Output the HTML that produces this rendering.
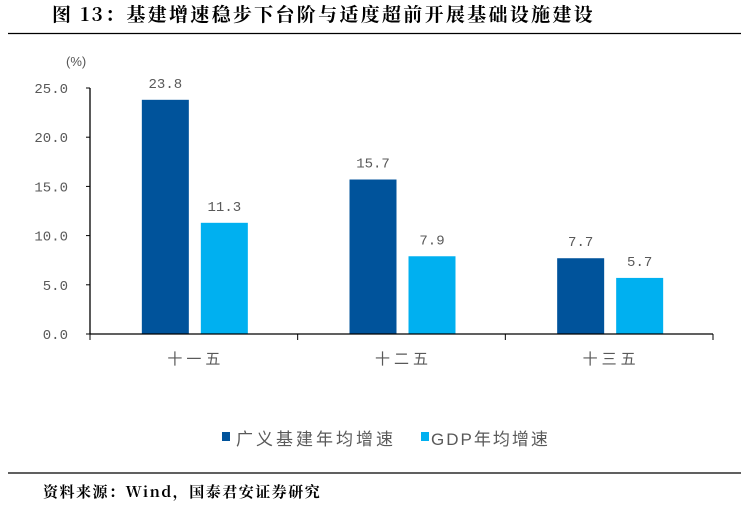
<!DOCTYPE html>
<html><head><meta charset="utf-8"><style>
body{margin:0;background:#fff;width:749px;height:507px;overflow:hidden;font-family:"Liberation Sans","Noto Sans CJK SC",sans-serif}
</style></head><body>
<svg width="749" height="507" xmlns="http://www.w3.org/2000/svg">
<text x="52" y="21" font-size="19" letter-spacing="2.3" font-weight="bold" fill="#000" font-family="'Noto Serif CJK SC','Noto Sans CJK SC',serif">图 13：基建增速稳步下台阶与适度超前开展基础设施建设</text>
<line x1="8" y1="33.5" x2="741" y2="33.5" stroke="#000" stroke-width="1.3"/>
<text x="66" y="66" font-size="13" fill="#555">(%)</text>
<g id="yaxis"></g>
<g id="bars"></g>
<g id="xaxis"></g>
<g>
<rect x="222" y="432" width="8" height="9" fill="#00539b"/>
<text x="236" y="445" font-size="17" letter-spacing="3" fill="#595959">广义基建年均增速</text>
<rect x="421" y="432" width="8" height="9" fill="#00b0f0"/>
<text x="431" y="445" font-size="17" letter-spacing="2" fill="#595959">GDP年均增速</text>
</g>
<line x1="8" y1="473" x2="741" y2="473" stroke="#000" stroke-width="1.3"/>
<text x="43" y="497" font-size="15" letter-spacing="1.5" font-weight="bold" fill="#000" font-family="'Noto Serif CJK SC','Noto Sans CJK SC',serif">资料来源：Wind，国泰君安证券研究</text>
</svg>
<script>
const categories=["十一五","十二五","十三五"];
const infraValues=[23.8,15.7,7.7];
const gdpValues=[11.3,7.9,5.7];
const yTicks=[0,5,10,15,20,25];
const NS="http://www.w3.org/2000/svg";
const x0=90,x1=713,yZero=334,yTop=88,yMax=25;
const yS=v=>yZero-(v/yMax)*(yZero-yTop);
const gw=(x1-x0)/categories.length;
function mk(tag,attrs,parent,text){const e=document.createElementNS(NS,tag);for(const k in attrs)e.setAttribute(k,attrs[k]);if(text!=null)e.textContent=text;parent.appendChild(e);return e;}
const ya=document.getElementById('yaxis'),ba=document.getElementById('bars'),xa=document.getElementById('xaxis');
let l=mk('line',{x1:x0,y1:yTop,x2:x0,y2:yZero,stroke:'#000','stroke-width':1.3},ya);


yTicks.forEach(t=>{
 const tk=mk('line',{x1:x0-4,y1:yS(t),x2:x0,y2:yS(t),stroke:'#000'},ya);
 
 
 const tx=mk('text',{x:x0-22,y:yS(t)+5,'text-anchor':'end','font-size':14,fill:'#595959','font-family':"'Liberation Mono',monospace"},ya,t.toFixed(1));
 
 
});
const xl=mk('line',{x1:x0,y1:yZero,x2:x1,y2:yZero,stroke:'#000','stroke-width':1.3},xa);


for(let i=0;i<=categories.length;i++){
 const t=mk('line',{x1:x0+gw*i,y1:yZero,x2:x0+gw*i,y2:yZero+6,stroke:'#000'},xa);
 
 
}
categories.forEach((c,i)=>{
 const cx=x0+gw*(i+0.5);
 const lab=mk('text',{x:cx+2,y:yZero+30,'text-anchor':'middle','font-size':15,fill:'#595959','letter-spacing':'4'},xa,c);
 
 
 [[infraValues[i],'#00539b',-52,'bar-infra'],[gdpValues[i],'#00b0f0',7,'bar-gdp']].forEach(([v,col,off,nm])=>{
  const r=mk('rect',{x:cx+off,y:yS(v),width:47,height:yZero-yS(v),fill:col},ba);
  
  
  const vt=mk('text',{x:cx+off+23.5,y:yS(v)-12,'text-anchor':'middle','font-size':14,fill:'#595959','font-family':"'Liberation Mono',monospace"},ba,v.toFixed(1));
  
  
 });
});
</script>
</body></html>
